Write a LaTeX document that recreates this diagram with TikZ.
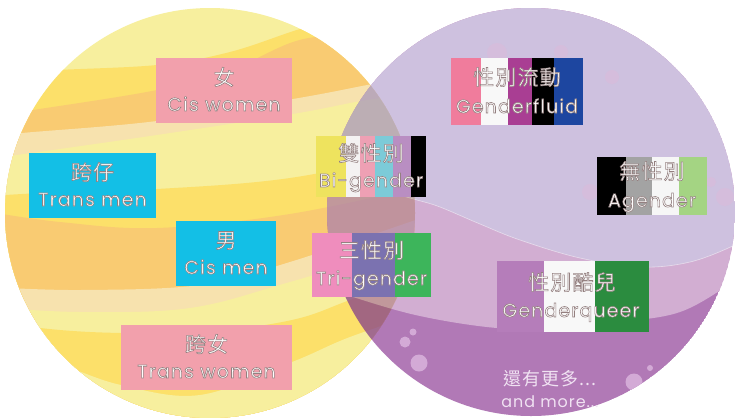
\documentclass[tikz,border=0pt]{standalone}
\usepackage{fontspec}
\newfontfamily\zhfont{Noto Sans CJK TC}[LetterSpace=6]
\newfontfamily\enfont{Poppins}[LetterSpace=6]

% planet stripes
\definecolor{ypale}{HTML}{F7EF9E}
\definecolor{ydeep}{HTML}{FCE06A}
\definecolor{yorange}{HTML}{F9CB72}
\definecolor{ycream}{HTML}{F7E2AE}
% purple layers (shown at 72% opacity)
\definecolor{plav}{RGB}{188,170,211}
\definecolor{pmid}{RGB}{194,144,194}
\definecolor{pdark}{RGB}{148,70,155}
\definecolor{bublav}{HTML}{D5BDDC}
\definecolor{bubdark}{HTML}{D3AAD6}
\definecolor{moretext}{HTML}{F0E2F2}
% label boxes
\definecolor{boxpink}{HTML}{F2A0AC}
\definecolor{boxcyan}{HTML}{13BFE6}
\definecolor{biyellow}{HTML}{EEE35E}
\definecolor{biwhite}{HTML}{F4F2F2}
\definecolor{bipink}{HTML}{EEA0B4}
\definecolor{bicyan}{HTML}{7CCBD8}
\definecolor{bililac}{HTML}{B98EC2}
\definecolor{tripink}{HTML}{EF8DBD}
\definecolor{tripurple}{HTML}{7B72B0}
\definecolor{trigreen}{HTML}{3DB55B}
\definecolor{flpink}{HTML}{F07C9C}
\definecolor{flwhite}{HTML}{F8F8F8}
\definecolor{flpurple}{HTML}{A93E93}
\definecolor{flblue}{HTML}{1D46A0}
\definecolor{aggray}{HTML}{A3A3A3}
\definecolor{agwhite}{HTML}{F6F6F6}
\definecolor{aggreen}{HTML}{A4D483}
\definecolor{gqlav}{HTML}{B57DBA}
\definecolor{gqwhite}{HTML}{F8F8F8}
\definecolor{gqgreen}{HTML}{2B8C3F}

% fill everything below a wavy boundary
\newcommand\bandbelow[2]{\fill[#1] plot[smooth, tension=0.6] coordinates {#2} -- (440,440) -- (-20,440) -- cycle;}
% vertical flag stripes: top, bottom, list of left/right/colour
\newcommand\flagstripes[3]{\foreach \xa/\xb/\cc in {#3}{\fill[fill=\cc] (\xa,#1) rectangle (\xb,#2);}}
% white lettering with a soft grey rim (fill + stroke text rendering)
\newcommand\rimmed[1]{\special{pdf:literal direct 0.58 0.5 0.5 RG 0.6 w 2 Tr}#1\special{pdf:literal direct 0 Tr}}

\tikzset{
  zh/.style={font=\zhfont\fontsize{21}{21}\selectfont, text=white, inner sep=0pt, anchor=base},
  en/.style={font=\enfont\fontsize{19}{19}\selectfont, text=white, inner sep=0pt, anchor=base},
}

\begin{document}
\begin{tikzpicture}[x=1bp, y=-1bp]
\useasboundingbox (0,0) rectangle (735,417);
\fill[white] (0,0) rectangle (735,417);

% yellow planet
\begin{scope}
  \clip (210,213) circle[radius=205];
  \fill[ypale] (210,213) circle[radius=205];
  \bandbelow{ydeep}{(-10,78) (40,71) (157,65) (230,52) (300,29) (340,20) (430,0)}
  \bandbelow{yorange}{(-10,116) (33,110) (157,90) (230,70) (293,42) (340,34) (430,20)}
  \bandbelow{ycream}{(-10,137) (22,133) (157,121) (293,99) (367,85) (430,72)}
  \bandbelow{ypale}{(-10,158) (17,155) (157,135) (293,114) (367,100) (430,92)}
  \bandbelow{ydeep}{(-10,196) (60,192) (157,189) (290,178) (430,150)}
  \bandbelow{yorange}{(-10,212) (60,222) (157,228) (290,214) (430,185)}
  \bandbelow{ycream}{(-10,287) (80,290) (200,285) (290,262) (430,215)}
  \bandbelow{ypale}{(-10,307) (80,312) (190,308) (290,282) (430,240)}
  \bandbelow{ydeep}{(-10,322) (60,330) (121,333) (200,333) (292,320) (350,300) (430,270)}
  \bandbelow{ypale}{(-10,350) (60,365) (121,385) (200,395) (292,362) (350,337) (430,310)}
\end{scope}

% purple planet, translucent over the yellow one
\begin{scope}[transparency group, opacity=0.72]
  \clip (531,212) circle[radius=204];
  \fill[pdark] (531,212) circle[radius=204];
  \fill[pmid] plot[smooth, tension=0.6] coordinates {(315,283) (353,297) (420,316) (497,328) (560,328) (620,322) (680,312) (730,284) (750,268)} -- (760,-10) -- (300,-10) -- cycle;
  \fill[plav] plot[smooth, tension=0.6] coordinates {(320,176) (380,190) (417,200) (440,207) (480,224) (520,240) (580,258) (640,267) (690,262) (735,245) (750,235)} -- (760,-10) -- (300,-10) -- cycle;
  \draw[white, opacity=0.5, line width=0.6] plot[smooth, tension=0.6] coordinates {(320,176) (380,190) (417,200) (440,207) (480,224) (520,240) (580,258) (640,267) (690,262) (735,245) (750,235)};
\end{scope}

% the overlap of the two planets is a little darker
\begin{scope}
  \clip (210,213) circle[radius=205];
  \fill[black, opacity=0.08] (531,212) circle[radius=204];
\end{scope}

% bubbles
\begin{scope}
  \clip (531,212) circle[radius=204];
  \foreach \bx/\by/\br in {497/53/10, 561/52/7, 612/77/7, 590/192/8, 711/182/5, 725/197/9}
    \fill[bublav] (\bx,\by) circle[radius=\br];
  \foreach \bx/\by/\br in {413/332/3.5, 405/342/5.5, 419/363/8.5, 634/382/8.5, 650/368/3}
    \fill[bubdark] (\bx,\by) circle[radius=\br];
\end{scope}

% single-gender labels
\fill[boxpink] (156,58) rectangle (292,123);
\node[zh] (cisw-zh) at (224,85) {\rimmed{女}};
\node[en] (cisw-en) at (224,111) {\rimmed{Cis women}};

\fill[boxcyan] (29,153) rectangle (156,218);
\node[zh] (transm-zh) at (92.5,180) {\rimmed{跨仔}};
\node[en] (transm-en) at (92.5,206) {\rimmed{Trans men}};

\fill[boxcyan] (176,221) rectangle (276,286);
\node[zh] (cism-zh) at (226,248) {\rimmed{男}};
\node[en] (cism-en) at (226,274) {\rimmed{Cis men}};

\fill[boxpink] (121,325) rectangle (292,390);
\node[zh] (transw-zh) at (206.5,352) {\rimmed{跨女}};
\node[en] (transw-en) at (206.5,378) {\rimmed{Trans women}};

% flag labels
\flagstripes{136}{197}{316/346/biyellow, 346/360/biwhite, 360/375/bipink, 375/393/bicyan, 393/411/bililac, 411/426/black}
\node[zh] (bi-zh) at (371,161) {\rimmed{雙性別}};
\node[en] (bi-en) at (371,187) {\rimmed{Bi-gender}};

\flagstripes{233}{297}{312/352/tripink, 352/395/tripurple, 395/431/trigreen}
\node[zh] (tri-zh) at (371.5,258) {\rimmed{三性別}};
\node[en] (tri-en) at (371.5,285) {\rimmed{Tri-gender}};

\flagstripes{58}{125}{451/481/flpink, 481/508/flwhite, 508/532/flpurple, 532/554/black, 554/583/flblue}
\node[zh] (fluid-zh) at (517,85) {\rimmed{性別流動}};
\node[en] (fluid-en) at (517,113) {\rimmed{Genderfluid}};

\flagstripes{157}{215}{597/626/black, 626/652/aggray, 652/679/agwhite, 679/707/aggreen}
\node[zh] (agender-zh) at (652,179) {\rimmed{無性別}};
\node[en] (agender-en) at (652,207) {\rimmed{Agender}};

\flagstripes{261}{332}{497/544/gqlav, 544/595/gqwhite, 595/649/gqgreen}
\node[zh] (queer-zh) at (572,290) {\rimmed{性別酷兒}};
\node[en] (queer-en) at (571,317) {\rimmed{Genderqueer}};

% and more
\node[zh, text=moretext, font=\zhfont\fontsize{18}{18}\selectfont] (more-zh) at (550,385) {還有更多...};
\node[en, text=moretext, font=\enfont\fontsize{16}{16}\selectfont] (more-en) at (550,407) {and more...};
\end{tikzpicture}
\end{document}
